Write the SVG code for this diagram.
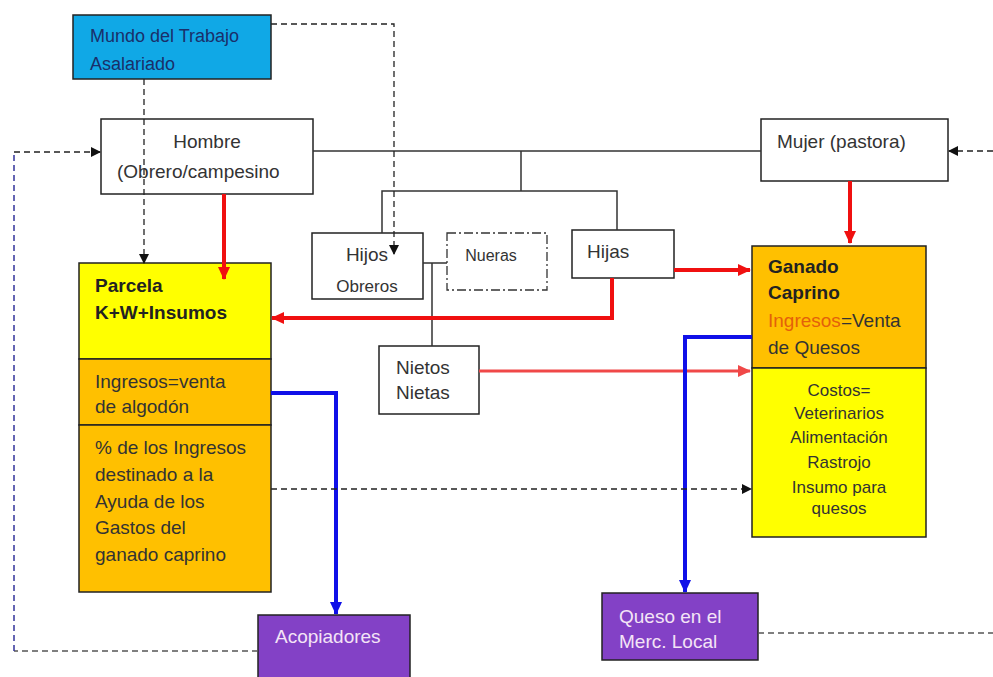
<svg xmlns="http://www.w3.org/2000/svg" width="993" height="677" viewBox="0 0 993 677">
<style>
text{font-family:"Liberation Sans",Arial,sans-serif;font-size:19px;fill:#333}
.box{stroke:#222;stroke-width:1.5}
.sm{font-size:17px}
.b{font-weight:bold;fill:#222}
.w{fill:#f4e4f6}
.c{text-anchor:middle}
.line{fill:none;stroke:#333;stroke-width:1.5}
.red{fill:none;stroke:#f01010;stroke-width:4}
.red2{fill:none;stroke:#f04848;stroke-width:3}
.blue{fill:none;stroke:#1010e8;stroke-width:4}
.dash{fill:none;stroke:#222;stroke-width:1.3;stroke-dasharray:6 4}
.dgrey{fill:none;stroke:#555;stroke-width:1.5;stroke-dasharray:6 4}
.dnavy{fill:none;stroke:#33339a;stroke-width:1.5;stroke-dasharray:6 4}
</style>
<defs>
<marker id="ab" markerUnits="userSpaceOnUse" markerWidth="10" markerHeight="10" refX="9" refY="5" orient="auto"><path d="M0,0 L10,5 L0,10 z" fill="#111"/></marker>
<marker id="ar" markerUnits="userSpaceOnUse" markerWidth="13" markerHeight="12" refX="12" refY="6" orient="auto"><path d="M0,0 L13,6 L0,12 z" fill="#f01010"/></marker>
<marker id="ar2" markerUnits="userSpaceOnUse" markerWidth="13" markerHeight="12" refX="12" refY="6" orient="auto"><path d="M0,0 L13,6 L0,12 z" fill="#f04848"/></marker>
<marker id="abl" markerUnits="userSpaceOnUse" markerWidth="13" markerHeight="12" refX="12" refY="6" orient="auto"><path d="M0,0 L13,6 L0,12 z" fill="#1010e8"/></marker>
</defs>
<rect width="993" height="677" fill="#fff"/>

<g id="mundo">
<rect class="box" x="73" y="15" width="198" height="64" fill="#10a8e6"/>
<text x="90" y="42" style="fill:#1a2f6a;font-size:18px">Mundo del Trabajo</text>
<text x="90" y="70" style="fill:#1a2f6a;font-size:18px">Asalariado</text>
</g>
<g id="hombre">
<rect class="box" x="101" y="119" width="212" height="75" fill="#fff"/>
<text x="207" y="148" class="c">Hombre</text>
<text x="117" y="178">(Obrero/campesino</text>
</g>
<g id="mujer">
<rect class="box" x="761" y="119" width="187" height="62" fill="#fff"/>
<text x="777" y="148">Mujer (pastora)</text>
</g>
<g id="hijos">
<rect class="box" x="312" y="233" width="111" height="66" fill="#fff"/>
<text x="367" y="261" class="c">Hijos</text>
<text x="367" y="292" class="c sm">Obreros</text>
</g>
<g id="nueras">
<rect x="447" y="233" width="100" height="57" fill="#fff" stroke="#333" stroke-width="1.3" stroke-dasharray="9 3 2 3"/>
<text x="491" y="261" class="c" style="font-size:16px">Nueras</text>
</g>
<g id="hijas">
<rect class="box" x="572" y="230" width="102" height="48" fill="#fff"/>
<text x="587" y="258">Hijas</text>
</g>
<g id="nietos">
<rect class="box" x="379" y="346" width="100" height="68" fill="#fff"/>
<text x="396" y="374">Nietos</text>
<text x="396" y="399">Nietas</text>
</g>
<g id="parcela">
<rect class="box" x="79" y="263" width="192" height="96" fill="#ffff00"/>
<rect class="box" x="79" y="359" width="192" height="66" fill="#ffc000"/>
<rect class="box" x="79" y="425" width="192" height="167" fill="#ffc000"/>
<text x="95" y="292" class="b">Parcela</text>
<text x="95" y="319" class="b">K+W+Insumos</text>
<text x="95" y="388">Ingresos=venta</text>
<text x="95" y="413">de algodón</text>
<text x="95" y="454">% de los Ingresos</text>
<text x="95" y="481">destinado a la</text>
<text x="95" y="508">Ayuda de los</text>
<text x="95" y="534">Gastos del</text>
<text x="95" y="561">ganado caprino</text>
</g>
<g id="ganado">
<rect class="box" x="752" y="246" width="174" height="122" fill="#ffc000"/>
<rect class="box" x="752" y="368" width="174" height="169" fill="#ffff00"/>
<text x="768" y="273" class="b">Ganado</text>
<text x="768" y="299" class="b">Caprino</text>
<text x="768" y="327"><tspan style="fill:#e4600a">Ingresos</tspan>=Venta</text>
<text x="768" y="354">de Quesos</text>
<text x="839" y="396" class="c sm">Costos=</text>
<text x="839" y="419" class="c sm">Veterinarios</text>
<text x="839" y="443" class="c sm">Alimentación</text>
<text x="839" y="468" class="c sm">Rastrojo</text>
<text x="839" y="493" class="c sm">Insumo para</text>
<text x="839" y="514" class="c sm">quesos</text>
</g>
<g id="acopiadores">
<rect class="box" x="258" y="615" width="152" height="80" fill="#8341c6"/>
<text x="275" y="643" class="w">Acopiadores</text>
</g>
<g id="queso">
<rect class="box" x="602" y="593" width="156" height="67" fill="#8341c6"/>
<text x="619" y="623" class="w">Queso en el</text>
<text x="619" y="648" class="w">Merc. Local</text>
</g>

<g id="connectors">
<path class="line" d="M313,151 H761 M521,151 V191 M382,233 V191 H617 V230 M423,263 H447 M432,263 V346"/>
<path class="red" d="M224,194 V279" marker-end="url(#ar)"/>
<path class="red" d="M850,181 V243" marker-end="url(#ar)"/>
<path class="red" d="M674,270 H750" marker-end="url(#ar)"/>
<path class="red" d="M612,278 V318 H272" marker-end="url(#ar)"/>
<path class="red2" d="M479,371 H750" marker-end="url(#ar2)"/>
<path class="blue" d="M271,393 H336 V614" marker-end="url(#abl)"/>
<path class="blue" d="M752,337 H685 V592" marker-end="url(#abl)"/>
<path class="dash" d="M271,489 H751" marker-end="url(#ab)"/>
<path class="dash" d="M271,24 H394 V254" marker-end="url(#ab)"/>
<path class="dash" d="M144,79 V263" marker-end="url(#ab)"/>
<path class="dash" d="M993,151 H949" marker-end="url(#ab)"/>
<path class="dgrey" d="M258,651 H14"/>
<path class="dnavy" d="M14,651 V152"/>
<path class="dash" d="M14,152 H100" marker-end="url(#ab)"/>
<path class="dgrey" d="M758,633 H993"/>
</g>
</svg>
